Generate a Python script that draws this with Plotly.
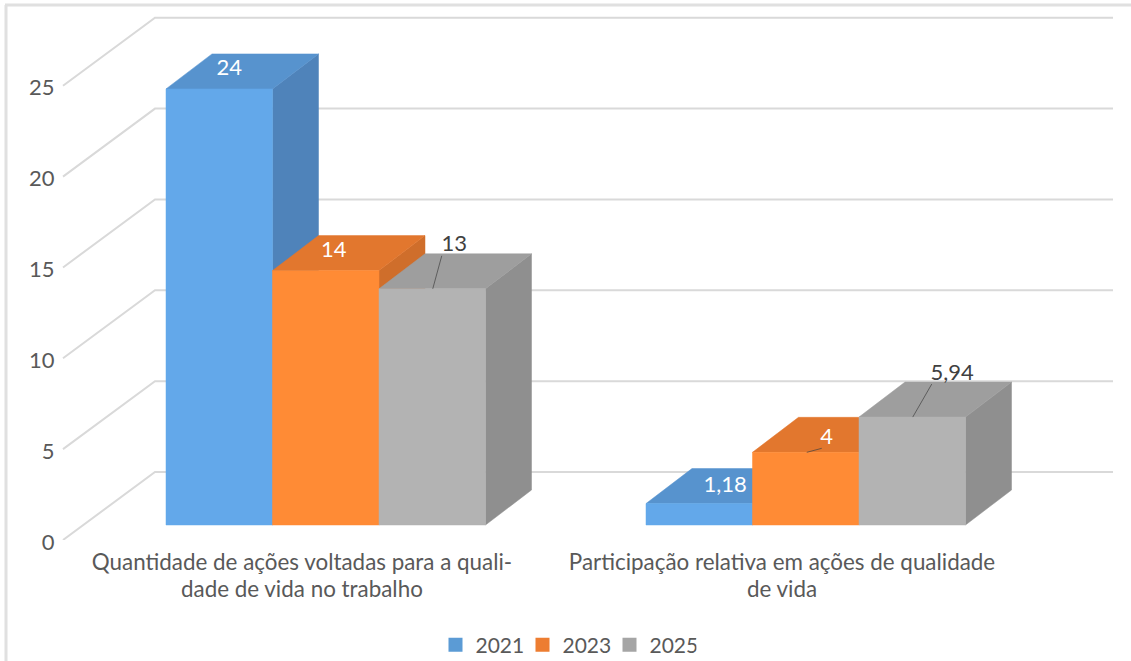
import plotly.graph_objects as go

category_line1 = ["Quantidade de ações voltadas para a quali-",
                  "Participação relativa em ações de qualidade"]
category_line2 = ["dade de vida no trabalho", "de vida"]
years = ["2021", "2023", "2025"]
values_2021 = [24, 1.18]
values_2023 = [14, 4]
values_2025 = [13, 5.94]
y_ticks = [0, 5, 10, 15, 20, 25]

# styles
legend_colors = ["#5B9BD5", "#ED7D31", "#A5A5A5"]
front_colors = ["#63A8EA", "#FF8B35", "#B3B3B3"]
top_colors = ["#5793CE", "#E2772E", "#9E9E9E"]
side_colors = ["#4F83BA", "#CF6E2B", "#8F8F8F"]
TEXT = "#595959"
GRID = "#D9D9D9"
FONT = "Lato"

# layout geometry (pixels)
W, H = 1131, 661
ML, MT, MR, MB = 62, 0, 16, 121
PXX = 480.0          # pixels per category
PXY = 18.17          # pixels per value unit
PW, PH = W - ML - MR, H - MT - MB
XR = [-0.5, -0.5 + PW / PXX]
YR = [0, PH / PXY]
dx = lambda p: p / PXX
dy = lambda p: p / PXY

BAR_W = dx(106.5)
GROUP_LEFT = dx(-136)
BASE = dy(15)
DEPTH_X, DEPTH_Y = dx(46), dy(35)
WALL_X0, WALL_X1, WALL_END = dx(1) - 0.5, dx(93) - 0.5, dx(1051) - 0.5
WALL_Y = dy(68)

fig = go.Figure()

# back wall gridlines and diagonals
for t in y_ticks:
    fig.add_trace(go.Scatter(
        x=[WALL_X0, WALL_X1, WALL_END],
        y=[t, t + WALL_Y, t + WALL_Y],
        mode="lines", line=dict(color=GRID, width=2), showlegend=False, hoverinfo="skip"))

series = [values_2021, values_2023, values_2025]


def poly(xs, ys, color):
    fig.add_trace(go.Scatter(
        x=xs + xs[:1], y=ys + ys[:1], mode="lines", fill="toself", fillcolor=color,
        line=dict(color=color, width=0.5), showlegend=False, hoverinfo="skip"))


label_dx = [[10, 26], [8, 21], [22, 40]]
label_dy = [[19, 17], [19, 14], [43, 43]]
leaders = [[None, None],
           [None, ((1, 0), (16, 4))],
           [((0.5, 0), (9.5, 33)), ((0.5, 0), (19.5, 33))]]

label_x, label_y, label_t, label_c = [], [], [], []
for s, vals in enumerate(series):
    for c, v in enumerate(vals):
        x0 = c + GROUP_LEFT + s * BAR_W
        x1 = x0 + BAR_W
        top = BASE + v
        # side, top, front faces
        poly([x1, x1 + DEPTH_X, x1 + DEPTH_X, x1],
             [BASE, BASE + DEPTH_Y, top + DEPTH_Y, top], side_colors[s])
        poly([x0, x1, x1 + DEPTH_X, x0 + DEPTH_X],
             [top, top, top + DEPTH_Y, top + DEPTH_Y], top_colors[s])
        poly([x0, x1, x1, x0], [BASE, BASE, top, top], front_colors[s])
        xc = (x0 + x1) / 2
        label_x.append(xc + dx(label_dx[s][c]))
        label_y.append(top + dy(label_dy[s][c]))
        label_t.append(f"{v:g}".replace(".", ","))
        label_c.append("#404040" if s == 2 else "#FFFFFF")
        leader = leaders[s][c]
        if leader:
            (a, b), (e, f) = leader
            fig.add_trace(go.Scatter(
                x=[xc + dx(a), xc + dx(e)], y=[top + dy(b), top + dy(f)],
                mode="lines", line=dict(color="#404040", width=0.7),
                showlegend=False, hoverinfo="skip"))

fig.add_trace(go.Scatter(
    x=label_x, y=label_y, text=label_t, mode="text",
    textposition="middle center",
    textfont=dict(family=FONT, size=22, color=label_c),
    showlegend=False, hoverinfo="skip"))

# legend entries
for y, col in zip(years, legend_colors):
    fig.add_trace(go.Scatter(
        x=[None], y=[None], mode="markers", name=y,
        marker=dict(symbol="square", size=14, color=col)))

# outer border, top and left
px = lambda p: (p - ML) / PW
py = lambda p: 1 - (p - MT) / PH
shapes = [
    dict(type="line", xref="paper", yref="paper", x0=px(5), x1=px(1131), y0=py(5), y1=py(5),
         line=dict(color="#E0E0E0", width=3)),
    dict(type="line", xref="paper", yref="paper", x0=px(6), x1=px(6), y0=py(5), y1=py(661),
         line=dict(color="#E0E0E0", width=3)),
]

annotations = [
    dict(x=i, xref="x", y=py(588), yref="paper", text=t, showarrow=False,
         xanchor="center", yanchor="middle",
         font=dict(family=FONT, size=22.4, color=TEXT))
    for i, t in enumerate(category_line2)
]

fig.update_layout(
    width=W, height=H, autosize=False,
    margin=dict(l=ML, r=MR, t=MT, b=MB, pad=0),
    plot_bgcolor="white", paper_bgcolor="white",
    font=dict(family=FONT, size=21, color=TEXT),
    shapes=shapes, annotations=annotations,
    showlegend=True,
    legend=dict(orientation="h", xref="container", yref="container",
                xanchor="center", yanchor="middle",
                x=566 / W, y=1 - 645 / H, font=dict(family=FONT, size=21, color=TEXT),
                entrywidth=42, entrywidthmode="pixels", bgcolor="rgba(0,0,0,0)"),
    xaxis=dict(range=XR, tickmode="array", tickvals=[0, 1], ticktext=category_line1,
               tickangle=0, showgrid=False, zeroline=False, showline=False, automargin=False,
               ticks="outside", ticklen=2, tickcolor="rgba(0,0,0,0)",
               tickfont=dict(family=FONT, size=22.4, color=TEXT)),
    yaxis=dict(range=YR, tickmode="array", tickvals=y_ticks, automargin=False,
               showgrid=False, zeroline=False, showline=False,
               ticks="outside", ticklen=2, tickcolor="rgba(0,0,0,0)",
               ticklabelshift=2,
               tickfont=dict(family=FONT, size=22, color=TEXT)),
)

fig.write_html("out.html", config={"displayModeBar": False},
               post_script="document.body.style.margin='0';")
